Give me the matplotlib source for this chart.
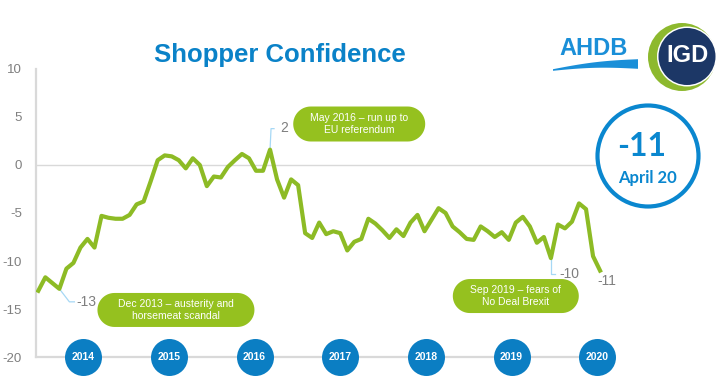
import numpy as np
import matplotlib
matplotlib.use("Agg")
import matplotlib.pyplot as plt
from matplotlib.patches import Circle, Polygon

# monthly index, Sep 2013 .. Apr 2020
values = [-13.1, -11.7, -12.3, -12.9, -10.8, -10.2, -8.6, -7.7, -8.6, -5.3,
          -5.5, -5.6, -5.6, -5.2, -4.1, -3.8, -1.7, 0.5, 1.0, 0.9,
          0.5, -0.35, 0.7, 0.0, -2.2, -1.2, -1.3, -0.2, 0.5, 1.15,
          0.7, -0.6, -0.6, 1.6, -1.5, -3.4, -1.5, -2.1, -7.1, -7.6,
          -6.0, -7.2, -6.9, -7.1, -8.9, -8.0, -7.7, -5.6, -6.1, -6.8,
          -7.6, -6.7, -7.4, -6.0, -5.2, -6.9, -5.7, -4.5, -5.0, -6.4,
          -7.0, -7.7, -7.8, -6.4, -6.9, -7.5, -7.0, -7.8, -6.0, -5.4,
          -6.4, -8.1, -7.5, -9.7, -6.2, -6.6, -5.9, -4.0, -4.6, -9.5,
          -11.0]
years = ["2014", "2015", "2016", "2017", "2018", "2019", "2020"]
labelled_idx = [3, 33, 73, 80]
notes = ["Dec 2013 \u2013 austerity and\nhorsemeat scandal",
         "May 2016 \u2013 run up to\nEU referendum",
         "Sep 2019 \u2013 fears of\nNo Deal Brexit"]
latest_value = -11
latest_label = "April 20"

GREEN = "#8DBB25"
PILL = "#95C11F"
BLUE = "#0B7EC3"
TITLE_BLUE = "#0A82C8"
GREY = "#D9D9D9"
TXT = "#7F7F7F"
LEADER = "#A6D8F5"

plt.rcParams["font.family"] = ["Liberation Sans", "DejaVu Sans"]
plt.rcParams["axes.unicode_minus"] = False

W, H, DPI = 7.25, 3.9, 100
fig = plt.figure(figsize=(W, H), dpi=DPI)
ax_l, ax_b, ax_w, ax_h = 36, 33, 576, 288  # pixels
ax = fig.add_axes([ax_l / 725, ax_b / 390, ax_w / 725, ax_h / 390])

x = np.arange(len(values))
xmin, xmax = -0.33, 81.7
ax.set_xlim(xmin, xmax)
ax.set_ylim(-20, 10)
ppx = ax_w / (xmax - xmin)
ppy = ax_h / 30

ax.plot(x, values, color=GREEN, lw=3, zorder=3)
ax.axhline(0, color=GREY, lw=1, zorder=1)

for s in ["top", "right"]:
    ax.spines[s].set_visible(False)
for s in ["left", "bottom"]:
    ax.spines[s].set_color(GREY)
    ax.spines[s].set_linewidth(1.6)
ax.set_xticks([])
ax.set_yticks(range(-20, 11, 5))
ax.tick_params(axis="y", length=0, pad=10, labelsize=9.5, labelcolor=TXT)

# year bubbles along the axis
year_pos = [6.4 + 12.2 * i for i in range(len(years))]
ax.scatter(year_pos, [-20] * len(years), s=(37 * 72 / DPI) ** 2, color=BLUE,
           zorder=5, clip_on=False, linewidths=0)
for p, yr in zip(year_pos, years):
    ax.text(p, -20, yr, ha="center", va="center", color="white",
            fontweight="bold", fontsize=7.5, zorder=6, clip_on=False)


# green pill notes (semicircle ends, sized in pixels)
def pill(cx, cy, w_px, h_px, text):
    r = h_px / 2
    a = w_px / 2 - r
    ang = np.linspace(-np.pi / 2, np.pi / 2, 30)
    right = np.column_stack([a + r * np.cos(ang), r * np.sin(ang)])
    left = np.column_stack([-a - r * np.cos(ang), -r * np.sin(ang)])
    pts = np.vstack([right, left])
    pts = np.column_stack([cx + pts[:, 0] / ppx, cy + pts[:, 1] / ppy])
    ax.add_patch(Polygon(pts, closed=True, facecolor=PILL, edgecolor="none",
                         zorder=4, clip_on=False))
    ax.text(cx, cy, text, ha="center", va="center", color="white",
            fontsize=7.5, linespacing=1.35, zorder=5)


pill(19.6, -15.1, 157, 34, notes[0])
pill(45.7, 4.27, 132, 35, notes[1])
pill(68.0, -13.65, 126, 34, notes[2])


# data labels with leader lines (offsets in pixels)
def leader(i, pts, lab_off):
    xv, yv = x[i], values[i]
    xs = [xv] + [xv + dx / ppx for dx, dy in pts]
    ys = [yv] + [yv - dy / ppy for dx, dy in pts]
    if pts:
        ax.plot(xs, ys, color=LEADER, lw=0.9, zorder=2)
    ax.text(xv + lab_off[0] / ppx, yv - lab_off[1] / ppy,
            f"{round(values[i]):d}", ha="left", va="center", color=TXT,
            fontsize=10, zorder=5)


leader(labelled_idx[0], [(10, 13), (15, 13)], (17, 13))
leader(labelled_idx[1], [(1, -21), (4, -21)], (10, -22))
leader(labelled_idx[2], [(0, 16), (4, 16)], (8, 16))
leader(labelled_idx[3], [], (-3, 10))

# title
fig.text(279.5 / DPI, (390 - 62) / DPI, "Shopper Confidence",
         transform=fig.dpi_scale_trans, ha="center", va="baseline",
         fontsize=18.5, fontweight="bold", color=TITLE_BLUE)

# latest value circle
fig.add_artist(Circle((648 / DPI, (390 - 156) / DPI), 0.505,
                      transform=fig.dpi_scale_trans, facecolor="white",
                      edgecolor="#0A87CF", lw=3))
fig.text(642 / DPI, (390 - 147) / DPI, f"{latest_value}",
         transform=fig.dpi_scale_trans, ha="center", va="center",
         fontsize=23, fontweight="bold", color="#0A87CF", family="Lato")
fig.text(647 / DPI, (390 - 178) / DPI, latest_label,
         transform=fig.dpi_scale_trans, ha="center", va="center",
         fontsize=12, fontweight="bold", color="#0A87CF", family="Lato")

# AHDB logo
fig.text(594 / DPI, (390 - 55) / DPI, "AHDB", transform=fig.dpi_scale_trans,
         ha="center", va="baseline", fontsize=17, fontweight="bold",
         color="#1A8FD8")
t = np.linspace(0, 1, 40)
wx = 553 + 85 * t
wc = 70 - 6 * t - 2 * np.sin(np.pi * t)
th = 0.8 + 4 * t
top = np.column_stack([wx, wc - th])
bot = np.column_stack([wx[::-1], (wc + th)[::-1]])
poly = np.vstack([top, bot])
poly = np.column_stack([poly[:, 0] / DPI, (390 - poly[:, 1]) / DPI])
fig.add_artist(Polygon(poly, closed=True, transform=fig.dpi_scale_trans,
                       facecolor="#1A8FD8", edgecolor="none"))

# IGD logo
fig.add_artist(Circle((682 / DPI, (390 - 57) / DPI), 0.34,
                      transform=fig.dpi_scale_trans, color="#8DB92E", lw=0))
fig.add_artist(Circle((687 / DPI, (390 - 56.5) / DPI), 0.30,
                      transform=fig.dpi_scale_trans, color="white", lw=0))
fig.add_artist(Circle((687 / DPI, (390 - 56.5) / DPI), 0.285,
                      transform=fig.dpi_scale_trans, color="#1C3766", lw=0))
fig.text(687 / DPI, (390 - 56) / DPI, "IGD", transform=fig.dpi_scale_trans,
         ha="center", va="center", fontsize=17, fontweight="bold",
         color="white")

fig.savefig("out.png", dpi=DPI)
